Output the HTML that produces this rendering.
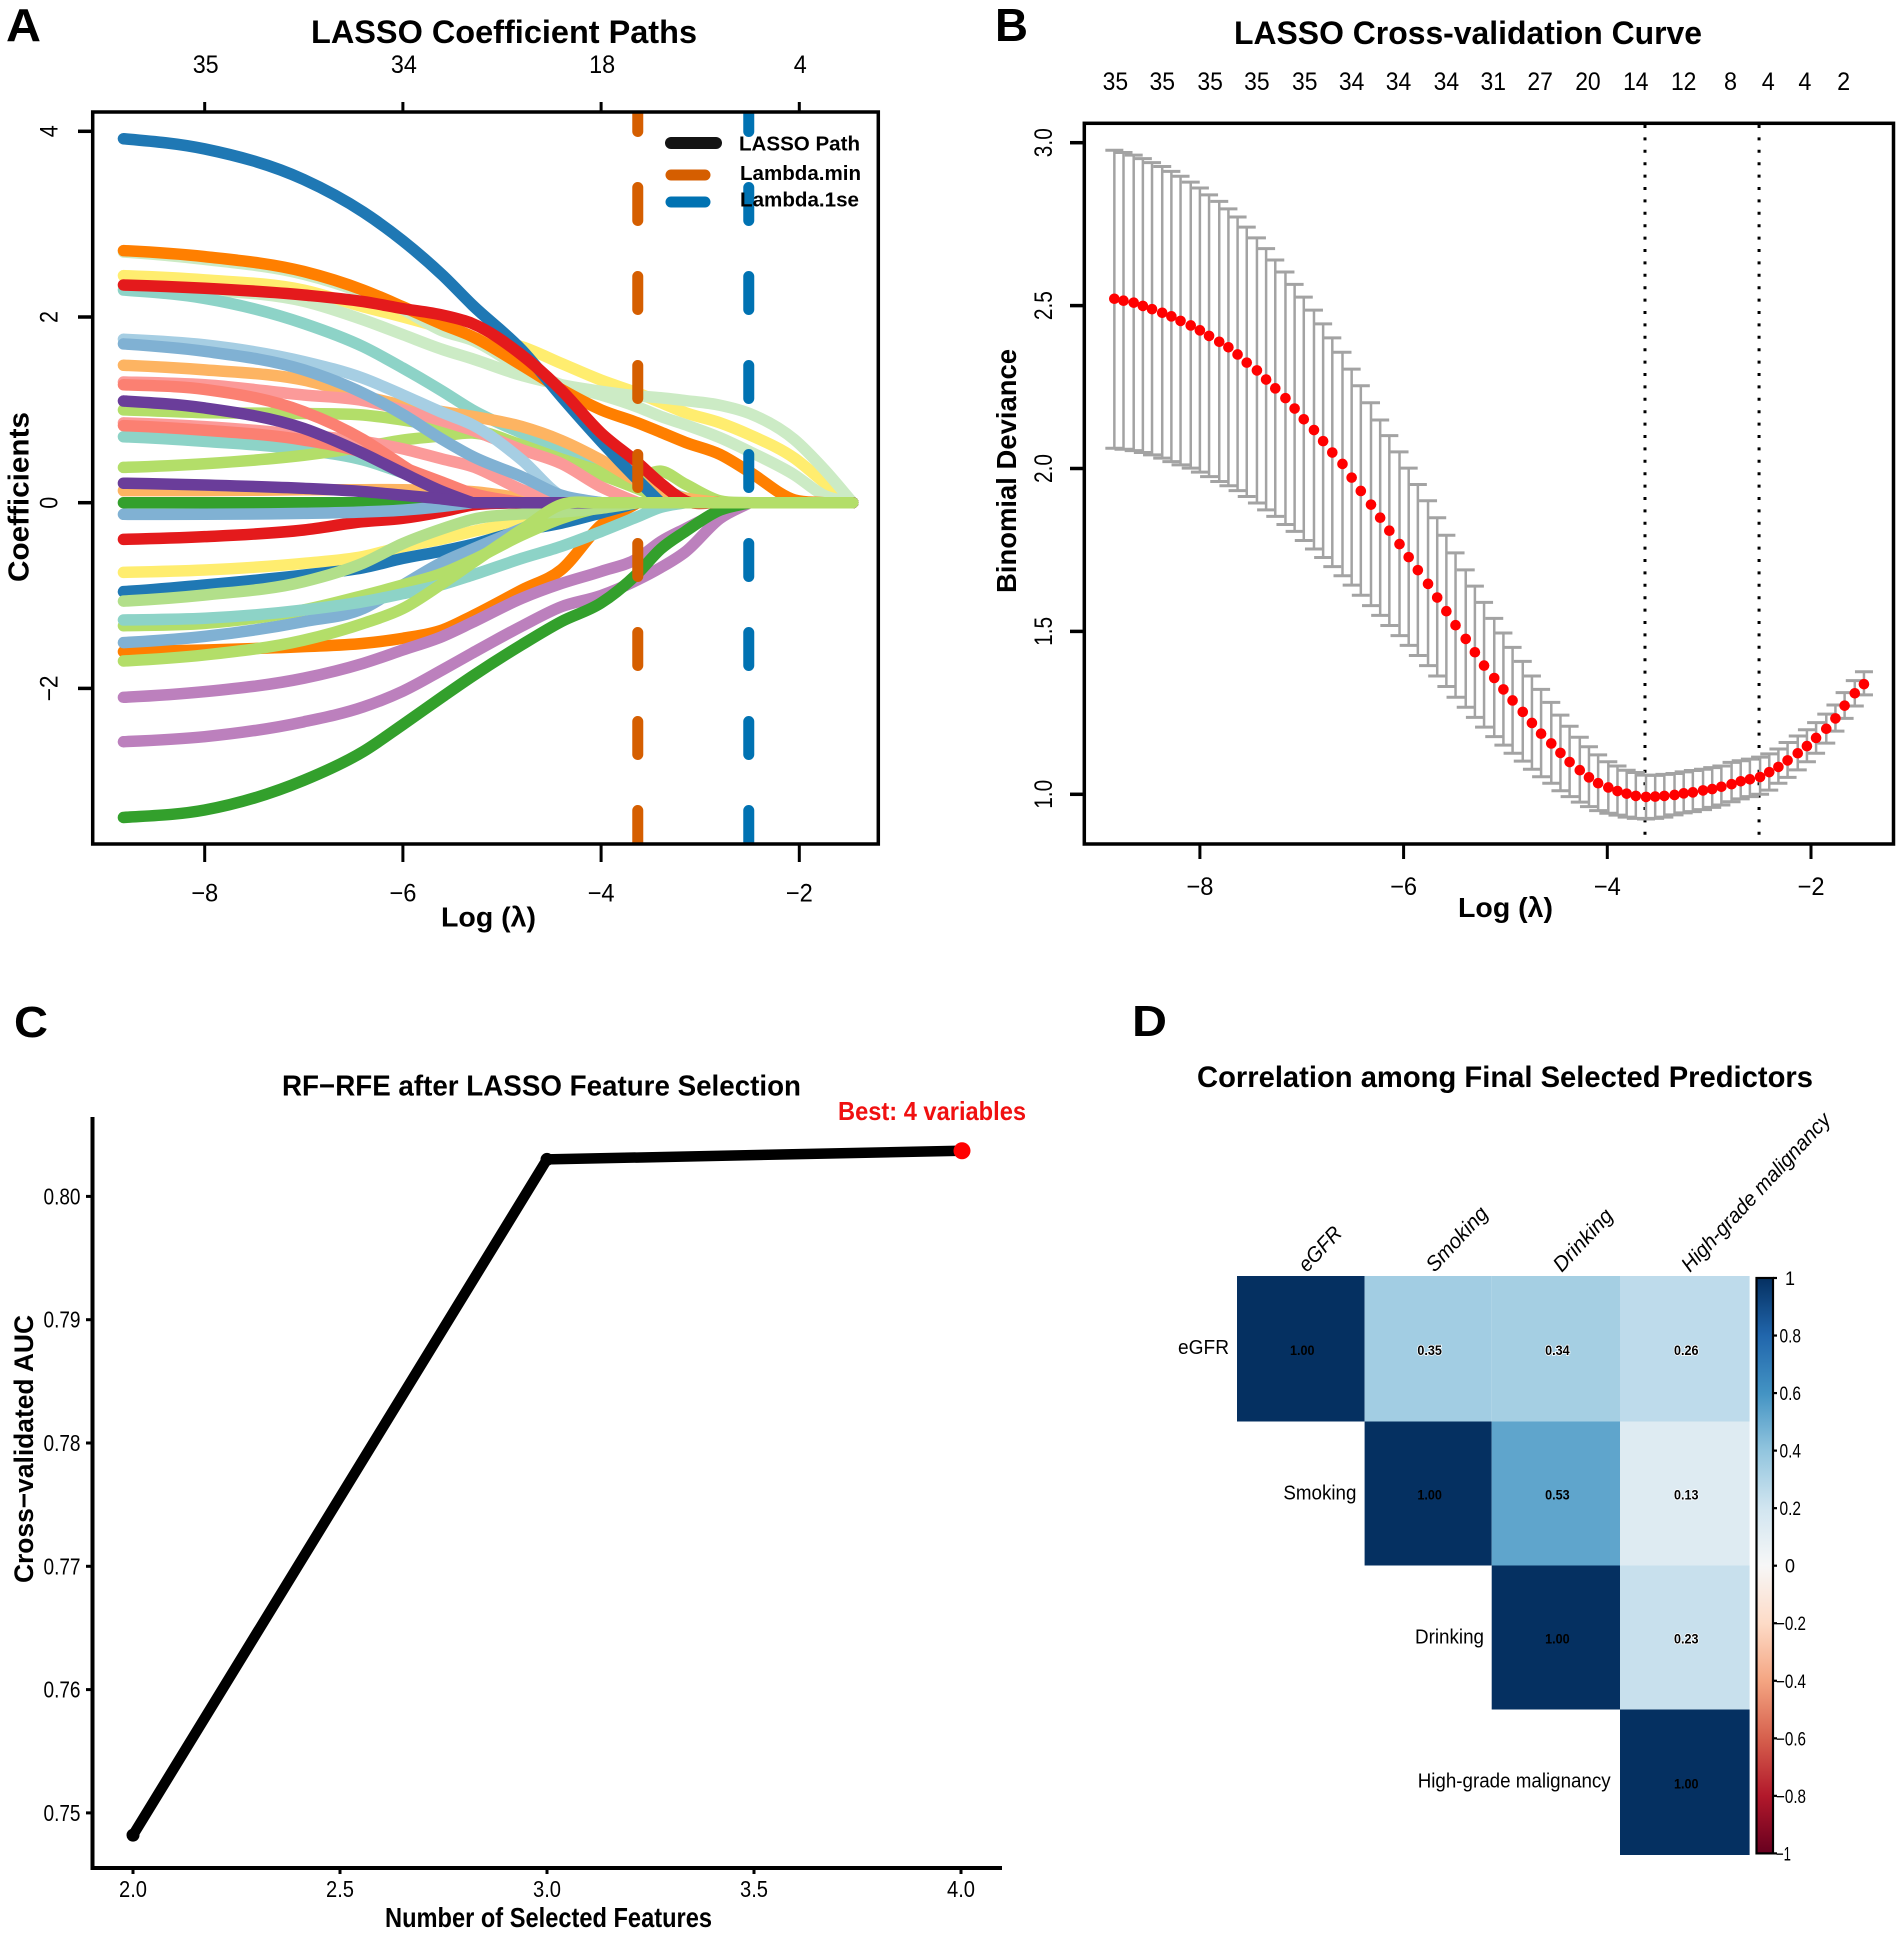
<!DOCTYPE html>
<html lang="en">
<head>
<meta charset="utf-8">
<title>LASSO and RF-RFE feature selection figure</title>
<style>
html,body{margin:0;padding:0;background:#fff;}
svg{display:block;font-family:"Liberation Sans",Arial,sans-serif;}
text{fill:#000;}
.b{font-weight:bold;}
</style>
</head>
<body>
<svg id="figure" width="1902" height="1935" viewBox="0 0 1902 1935" xmlns="http://www.w3.org/2000/svg">
<rect width="1902" height="1935" fill="#fff"/>
<defs>
<clipPath id="clipA"><rect x="92.7" y="112" width="785.6" height="732"/></clipPath>
<linearGradient id="cbarGrad" x1="0" y1="1" x2="0" y2="0"></linearGradient>
</defs>

<g id="panelA">
<text class="b" x="6" y="41" font-size="46" textLength="35" lengthAdjust="spacingAndGlyphs">A</text>
<text class="b" x="311" y="43" font-size="32" textLength="386" lengthAdjust="spacingAndGlyphs">LASSO Coefficient Paths</text>
<g id="pathsA" clip-path="url(#clipA)"></g>
<g id="vlinesA" clip-path="url(#clipA)"></g>
<rect x="92.7" y="112" width="785.6" height="732" fill="none" stroke="#000" stroke-width="3.5"/>
<g id="axesA"></g>
<g>
<line x1="671" y1="143" x2="716" y2="143" stroke="#141414" stroke-width="12" stroke-linecap="round"/>
<line x1="671" y1="175" x2="705" y2="175" stroke="#D55E00" stroke-width="11" stroke-linecap="round"/>
<line x1="671" y1="202" x2="705" y2="202" stroke="#0072B2" stroke-width="11" stroke-linecap="round"/>
<text class="b" x="739" y="150.5" font-size="20" textLength="121" lengthAdjust="spacingAndGlyphs">LASSO Path</text>
<text class="b" x="740" y="180" font-size="20" textLength="121" lengthAdjust="spacingAndGlyphs">Lambda.min</text>
<text class="b" x="740" y="206.5" font-size="20" textLength="119" lengthAdjust="spacingAndGlyphs">Lambda.1se</text>
</g>
<text class="b" x="441" y="926.5" font-size="28" textLength="95" lengthAdjust="spacingAndGlyphs">Log (λ)</text>
<text class="b" transform="translate(28.5,497) rotate(-90)" text-anchor="middle" font-size="29" textLength="170" lengthAdjust="spacingAndGlyphs">Coefficients</text>
</g>

<g id="panelB">
<text class="b" x="995" y="41" font-size="46" textLength="33" lengthAdjust="spacingAndGlyphs">B</text>
<text class="b" x="1234" y="44" font-size="32" textLength="468" lengthAdjust="spacingAndGlyphs">LASSO Cross-validation Curve</text>
<g id="cvB"></g>
<rect x="1084.3" y="123.3" width="809.2" height="720.7" fill="none" stroke="#000" stroke-width="3.5"/>
<g id="axesB"></g>
<text class="b" x="1458" y="917" font-size="28" textLength="95" lengthAdjust="spacingAndGlyphs">Log (λ)</text>
<text class="b" transform="translate(1015.8,471) rotate(-90)" text-anchor="middle" font-size="28" textLength="244" lengthAdjust="spacingAndGlyphs">Binomial Deviance</text>
</g>

<g id="panelC">
<text class="b" x="14" y="1037" font-size="44" textLength="34" lengthAdjust="spacingAndGlyphs">C</text>
<text class="b" x="282" y="1095.5" font-size="29" textLength="519" lengthAdjust="spacingAndGlyphs">RF−RFE after LASSO Feature Selection</text>
<text class="b" x="838" y="1120" font-size="26" textLength="188" lengthAdjust="spacingAndGlyphs" style="fill:#F01010">Best: 4 variables</text>
<g id="axesC"></g>
<g id="lineC"></g>
<text class="b" x="385" y="1927" font-size="28" textLength="327" lengthAdjust="spacingAndGlyphs">Number of Selected Features</text>
<text class="b" transform="translate(33,1449) rotate(-90)" text-anchor="middle" font-size="27" textLength="268" lengthAdjust="spacingAndGlyphs">Cross−validated AUC</text>
</g>

<g id="panelD">
<text class="b" x="1132" y="1036" font-size="44" textLength="35" lengthAdjust="spacingAndGlyphs">D</text>
<text class="b" x="1197" y="1087" font-size="30" textLength="616" lengthAdjust="spacingAndGlyphs">Correlation among Final Selected Predictors</text>
<g id="heatD"></g>
<g id="cbarD"></g>
</g>
</svg>

<script>
// ===== Panel A data =====
const coefLogLambda = [-8.82,-8,-7,-6.4,-6,-5.6,-5.3,-4.8,-4.4,-4,-3.63,-3.4,-3.15,-2.8,-2.5,-2.05,-1.75,-1.46];
const coefPeachLow = [0.13,0.13,0.14,0.14,0.14,0.13,0.12,0.05,0];
const coefYellowUp = [2.445,2.4,2.29,2.11,2.0,1.88,1.78,1.68,1.5,1.32,1.18,1.08,0.97,0.86,0.73,0.48,0.22,0];
const coefPaleLow = [2.7,2.62,2.46,2.26,2.08,1.85,1.75,1.45,1.27,1.16,1.03,0.93,0.84,0.7,0.55,0.3,0.08,0];
const coefPaleUp = [2.33,2.29,2.17,1.97,1.81,1.65,1.55,1.37,1.27,1.2,1.15,1.13,1.1,1.05,0.96,0.68,0.36,0];
const coefOrangeUp = [2.715,2.65,2.49,2.29,2.11,1.92,1.79,1.48,1.22,1.0,0.86,0.76,0.65,0.52,0.33,0.03,0];
const coefTealUp = [2.29,2.2,1.93,1.68,1.45,1.2,1.0,0.75,0.57,0.42,0.28,0.16,0.05,0];
const coefGreenHump = [1.0,0.97,0.96,0.945,0.89,0.82,0.79,0.62,0.47,0.34,0.26,0.34,0.2,0.02,0];
const coefGreenRise = [0.38,0.42,0.51,0.6,0.675,0.72,0.75,0.6,0.45,0.3,0.15,0.05,0];
const coefTealMid = [0.71,0.66,0.57,0.46,0.32,0.17,0.05,0];
const coefPeachUp = [1.48,1.43,1.32,1.15,1.05,0.98,0.93,0.82,0.67,0.46,0.23,0.12,0.05,0];
const coefPinkLow = [0.86,0.82,0.73,0.66,0.58,0.47,0.39,0.14,0];
const coefSalmonLow = [0.83,0.78,0.675,0.54,0.38,0.22,0.1,0];
const coefPinkUp = [1.3,1.27,1.16,1.1,1.0,0.88,0.78,0.57,0.42,0.17,0];
const coefSalmonUp = [1.27,1.22,0.98,0.68,0.4,0.14,0.02,0];
const coefLightBlue = [1.76,1.7,1.52,1.34,1.16,0.97,0.84,0.46,0.07,0];
const coefSteelUp = [1.71,1.63,1.43,1.18,0.95,0.68,0.5,0.28,0.08,0];
const coefPurpleUp = [1.095,1.02,0.8,0.53,0.32,0.12,0,0];
const coefGreenZero = [0,0,0,0,0,0,0,0,0];
const coefOrangeLow = [-1.604,-1.586,-1.55,-1.515,-1.46,-1.37,-1.22,-0.94,-0.72,-0.24,0];
const coefOrchidA = [-2.574,-2.52,-2.36,-2.2,-2.03,-1.8,-1.62,-1.33,-1.12,-1.0,-0.83,-0.7,-0.53,-0.17,0];
const coefOrchidB = [-2.096,-2.035,-1.89,-1.73,-1.586,-1.44,-1.29,-1.03,-0.87,-0.74,-0.6,-0.42,-0.28,-0.1,0];
const coefGreenDeep = [-3.39,-3.31,-2.99,-2.68,-2.39,-2.09,-1.87,-1.53,-1.28,-1.08,-0.76,-0.5,-0.31,-0.08,0];
const coefYellowLow = [-0.75,-0.725,-0.653,-0.58,-0.473,-0.39,-0.31,-0.21,-0.13,-0.05,0];
const coefBlueLow = [-0.958,-0.886,-0.78,-0.7,-0.6,-0.52,-0.45,-0.3,-0.22,-0.11,0];
const coefSteelLow = [-1.507,-1.44,-1.28,-1.14,-0.886,-0.64,-0.5,-0.28,-0.1,0];
const coefGreenLow = [-1.325,-1.3,-1.155,-1.0,-0.886,-0.76,-0.62,-0.35,-0.17,-0.05,0];
const coefTealLow = [-1.263,-1.245,-1.155,-1.066,-0.98,-0.88,-0.78,-0.6,-0.47,-0.31,-0.15,-0.05,0];
const coefGreenMid = [-1.06,-0.994,-0.85,-0.65,-0.44,-0.28,-0.18,-0.12,-0.1,-0.06,0];
const coefRedLow = [-0.395,-0.366,-0.294,-0.204,-0.168,-0.096,-0.025,0];
const coefSteelZero = [-0.125,-0.125,-0.115,-0.1,-0.08,-0.04,0,0];
const coefPurpleZero = [0.21,0.19,0.155,0.12,0.08,0.04,0,0];
const coefBlueUp = [3.92,3.81,3.48,3.13,2.82,2.45,2.13,1.645,1.14,0.66,0.245,0,0];
const coefRedUp = [2.345,2.31,2.237,2.166,2.09,2.02,1.93,1.59,1.21,0.75,0.43,0.21,0.02,0];
const coefGreenTop = [-1.705,-1.64,-1.48,-1.3,-1.14,-0.87,-0.65,-0.29,-0.02,0,0,0,0,0,0,0,0,0];
const lambdaMin = -3.63;
const lambda1se = -2.51;
const axisATicks = [-8,-6,-4,-2];
const axisATopLabels = ["35","34","18","4"];
const axisAYTicks = [4,2,0,-2];

// ===== Panel B data =====
const cvLogLambda = [-8.84,-8.75,-8.65,-8.56,-8.47,-8.37,-8.28,-8.19,-8.09,-8.00,
-7.91,-7.81,-7.72,-7.63,-7.54,-7.44,-7.35,-7.26,-7.16,-7.07,
-6.98,-6.88,-6.79,-6.70,-6.60,-6.51,-6.42,-6.32,-6.23,-6.14,
-6.04,-5.95,-5.86,-5.76,-5.67,-5.58,-5.49,-5.39,-5.30,-5.21,
-5.11,-5.02,-4.93,-4.83,-4.74,-4.65,-4.55,-4.46,-4.37,-4.27,
-4.18,-4.09,-3.99,-3.90,-3.81,-3.72,-3.62,-3.53,-3.44,-3.34,
-3.25,-3.16,-3.06,-2.97,-2.88,-2.78,-2.69,-2.60,-2.50,-2.41,
-2.32,-2.23,-2.13,-2.04,-1.95,-1.85,-1.76,-1.67,-1.57,-1.48];
const cvMean = [2.521,2.515,2.509,2.499,2.489,2.478,2.467,2.453,2.439,2.424,
2.407,2.389,2.372,2.350,2.325,2.301,2.273,2.246,2.216,2.184,
2.151,2.118,2.084,2.049,2.014,1.972,1.931,1.889,1.849,1.809,
1.768,1.728,1.688,1.646,1.604,1.562,1.519,1.477,1.436,1.395,
1.357,1.322,1.288,1.253,1.219,1.186,1.156,1.127,1.099,1.074,
1.052,1.034,1.021,1.010,1.002,0.995,0.992,0.993,0.995,0.998,
1.003,1.006,1.012,1.016,1.023,1.031,1.040,1.046,1.053,1.068,
1.084,1.104,1.126,1.148,1.173,1.201,1.233,1.272,1.310,1.338];
const cvUpper = [2.977,2.970,2.962,2.951,2.939,2.927,2.912,2.897,2.879,2.861,
2.840,2.820,2.797,2.772,2.741,2.708,2.675,2.640,2.603,2.565,
2.526,2.486,2.444,2.401,2.357,2.305,2.254,2.202,2.149,2.101,
2.051,2.001,1.951,1.901,1.849,1.795,1.741,1.689,1.639,1.589,
1.540,1.495,1.451,1.408,1.363,1.322,1.282,1.243,1.209,1.175,
1.146,1.121,1.100,1.087,1.074,1.067,1.059,1.058,1.061,1.064,
1.069,1.073,1.077,1.082,1.087,1.098,1.103,1.108,1.114,1.124,
1.139,1.159,1.179,1.198,1.220,1.246,1.274,1.312,1.349,1.376];
const cvLower = [2.062,2.059,2.055,2.049,2.042,2.032,2.021,2.011,2.001,1.989,
1.975,1.960,1.947,1.932,1.914,1.894,1.873,1.853,1.828,1.807,
1.779,1.753,1.727,1.699,1.671,1.642,1.611,1.579,1.549,1.518,
1.487,1.457,1.426,1.395,1.363,1.331,1.298,1.267,1.236,1.206,
1.177,1.151,1.126,1.102,1.077,1.054,1.034,1.011,0.993,0.976,
0.962,0.950,0.942,0.936,0.930,0.926,0.924,0.926,0.930,0.937,
0.943,0.947,0.953,0.960,0.967,0.977,0.986,0.993,1.000,1.013,
1.034,1.052,1.075,1.100,1.126,1.157,1.194,1.233,1.271,1.305];
const cvTopLogLambda = [-8.83,-8.37,-7.90,-7.44,-6.97,-6.51,-6.05,-5.58,-5.12,-4.66,-4.19,-3.72,-3.25,-2.79,-2.42,-2.06,-1.68];
const cvTopLabels = ["35","35","35","35","35","34","34","34","31","27","20","14","12","8","4","4","2"];
const axisBXTicks = [-8,-6,-4,-2];
const axisBYTicks = [3.0,2.5,2.0,1.5,1.0];

// ===== Panel C data =====
const rfeFeatures = [2,3,4];
const rfeAuc = [0.7482,0.8030,0.8037];
const axisCXTicks = [2.0,2.5,3.0,3.5,4.0];
const axisCYTicks = [0.80,0.79,0.78,0.77,0.76,0.75];

// ===== Panel D data =====
const corrVars = ["eGFR","Smoking","Drinking","High-grade malignancy"];
const corrRow0 = [1.00,0.35,0.34,0.26];
const corrRow1 = [null,1.00,0.53,0.13];
const corrRow2 = [null,null,1.00,0.23];
const corrRow3 = [null,null,null,1.00];
const cbarTicks = [1,0.8,0.6,0.4,0.2,0,-0.2,-0.4,-0.6,-0.8,-1];
const rdbuValues = [-1,-0.8,-0.6,-0.4,-0.2,0,0.2,0.4,0.6,0.8,1];
const rdbuColors = ["#67001F","#B2182B","#D6604D","#F4A582","#FDDBC7","#F7F7F7","#D1E5F0","#92C5DE","#4393C3","#2166AC","#053061"];

// ===== Helpers =====
const NS = "http://www.w3.org/2000/svg";
function make(tag, parent){
  const el = document.createElementNS(NS, tag);
  parent.appendChild(el);
  return el;
}
function label(parent, str, x, y, size, anchor, len, rot, name){
  const el = make("text", parent);
  
  
  el.textContent = str;
  el.setAttribute("font-size", size);
  el.setAttribute("text-anchor", anchor);
  if (rot) { el.setAttribute("transform", "translate(" + x + "," + y + ") rotate(" + rot + ")"); }
  else { el.setAttribute("x", x); el.setAttribute("y", y); }
  if (len) { el.setAttribute("textLength", len); el.setAttribute("lengthAdjust", "spacingAndGlyphs"); }
  return el;
}
function seg(parent, x1, y1, x2, y2, color, w, name){
  const el = make("line", parent);
  
  
  el.setAttribute("x1", x1); el.setAttribute("y1", y1);
  el.setAttribute("x2", x2); el.setAttribute("y2", y2);
  el.setAttribute("stroke", color); el.setAttribute("stroke-width", w);
  return el;
}
function minusFmt(v, digits){
  const s = Math.abs(v).toFixed(digits);
  return (v < 0 ? "\u2212" : "") + s;
}
// Smooth cubic through knots; a path reaching its flat tail meets it with a kink, like a LASSO path.
function smoothPath(xs, ys){
  const n = xs.length, d = [], h = [];
  for (let i = 0; i < n - 1; i++) { h.push(xs[i+1] - xs[i]); d.push((ys[i+1] - ys[i]) / h[i]); }
  const mL = [], mR = [];
  for (let i = 0; i < n; i++) {
    if (i === 0) { mL[i] = mR[i] = d[0] * 0.7; continue; }
    if (i === n - 1) { mL[i] = mR[i] = d[n-2]; continue; }
    if (d[i] === 0) { mL[i] = d[i-1]; mR[i] = 0; continue; }
    const m = (d[i-1] * h[i] + d[i] * h[i-1]) / (h[i-1] + h[i]);
    mL[i] = m; mR[i] = m;
  }
  let p = "M" + xs[0].toFixed(2) + " " + ys[0].toFixed(2);
  for (let i = 0; i < n - 1; i++) {
    const t = h[i] / 3;
    p += "C" + (xs[i] + t).toFixed(2) + " " + (ys[i] + mR[i] * t).toFixed(2) + " " +
         (xs[i+1] - t).toFixed(2) + " " + (ys[i+1] - mL[i+1] * t).toFixed(2) + " " +
         xs[i+1].toFixed(2) + " " + ys[i+1].toFixed(2);
  }
  return p;
}
function rdbu(v){
  let i = 0;
  while (i < rdbuValues.length - 2 && v > rdbuValues[i+1]) i++;
  const t = (v - rdbuValues[i]) / (rdbuValues[i+1] - rdbuValues[i]);
  const a = rdbuColors[i], b = rdbuColors[i+1];
  let out = "rgb(";
  for (let k = 0; k < 3; k++) {
    const ca = parseInt(a.substr(1 + k * 2, 2), 16), cb = parseInt(b.substr(1 + k * 2, 2), 16);
    out += Math.round(ca + (cb - ca) * t) + (k < 2 ? "," : ")");
  }
  return out;
}

// ===== Panel A drawing =====
const xA = v => 204.7 + (v + 8) * 99.1;
const yA = v => 502.7 - v * 92.85;
const coefNames = ["peach-low","yellow-up","pale-low","pale-up","orange-up","teal-up","green-hump","teal-mid","green-rise","peach-up","pink-low","salmon-low","pink-up","salmon-up","light-blue","steel-up","purple-up","green-zero","orange-low","orchid-a","orchid-b","green-deep","yellow-low","blue-low","steel-low","green-low","teal-low","green-mid","red-low","steel-zero","purple-zero","blue-up","red-up","green-top"];
const coefSeries = [coefPeachLow,coefYellowUp,coefPaleLow,coefPaleUp,coefOrangeUp,coefTealUp,coefGreenHump,coefTealMid,coefGreenRise,coefPeachUp,coefPinkLow,coefSalmonLow,coefPinkUp,coefSalmonUp,coefLightBlue,coefSteelUp,coefPurpleUp,coefGreenZero,coefOrangeLow,coefOrchidA,coefOrchidB,coefGreenDeep,coefYellowLow,coefBlueLow,coefSteelLow,coefGreenLow,coefTealLow,coefGreenMid,coefRedLow,coefSteelZero,coefPurpleZero,coefBlueUp,coefRedUp,coefGreenTop];
const coefColors = ["#FDB462","#FFED6F","#CCEBC5","#CCEBC5","#FF7F00","#8DD3C7","#B3DE69","#8DD3C7","#B3DE69","#FDB462","#FB9A99","#FB8072","#FB9A99","#FB8072","#A6CEE3","#80B1D3","#6A3D9A","#33A02C","#FF7F00","#BC80BD","#BC80BD","#33A02C","#FFED6F","#1F78B4","#80B1D3","#B3DE69","#8DD3C7","#B2DF8A","#E41A1C","#80B1D3","#6A3D9A","#1F78B4","#E41A1C","#B3DE69"];
const gPaths = document.getElementById("pathsA");
coefSeries.forEach(function(vals, s){
  const xs = coefLogLambda.map(xA);
  const ys = coefLogLambda.map(function(_, i){ return yA(vals[i] === undefined ? 0 : vals[i]); });
  const el = make("path", gPaths);
  
  
  el.setAttribute("d", smoothPath(xs, ys));
  el.setAttribute("fill", "none");
  el.setAttribute("stroke", coefColors[s]);
  el.setAttribute("stroke-width", 11.5);
  el.setAttribute("stroke-linecap", "round");
  el.setAttribute("stroke-linejoin", "round");
});
const gV = document.getElementById("vlinesA");
const vMin = seg(gV, xA(lambdaMin), 98.5, xA(lambdaMin), 860, "#D55E00", 11, "lambda-min-line");
const v1se = seg(gV, xA(lambda1se), 98.5, xA(lambda1se), 860, "#0072B2", 11, "lambda-1se-line");
[vMin, v1se].forEach(function(el){
  el.setAttribute("stroke-dasharray", "33 56");
  el.setAttribute("stroke-linecap", "round");
});
const gAA = document.getElementById("axesA");
axisATicks.forEach(function(t, i){
  seg(gAA, xA(t), 844, xA(t), 862, "#000", 3, "x-tick");
  seg(gAA, xA(t), 102, xA(t), 112, "#000", 3, "top-tick");
  label(gAA, minusFmt(t, 0), xA(t), 901.5, 25, "middle", t < 0 ? 27 : 0, 0, "x-tick-label");
  label(gAA, axisATopLabels[i], xA(t) + 1, 73, 25, "middle", axisATopLabels[i].length > 1 ? 26 : 13, 0, "top-count-label");
});
axisAYTicks.forEach(function(t){
  seg(gAA, 78, yA(t), 92.7, yA(t), "#000", 3.5, "y-tick");
  label(gAA, minusFmt(t, 0), 57.5, yA(t), 25, "middle", t < 0 ? 26 : 12, -90, "y-tick-label");
});

// ===== Panel B drawing =====
const xB = v => 1199.9 + (v + 8) * 101.85;
const yB = v => 794.3 - (v - 1) * 325.8;
const gCV = document.getElementById("cvB");
[lambdaMin, lambda1se].forEach(function(l){
  const el = seg(gCV, xB(l), 125, xB(l), 836, "#000", 3, "cv-lambda-dotted-line");
  el.setAttribute("stroke-dasharray", "3 9.4");
});
cvLogLambda.forEach(function(l, i){
  const x = xB(l), u = yB(cvUpper[i]), d = yB(cvLower[i]);
  seg(gCV, x, u, x, d, "#A3A3A3", 2.5, "cv-error-bar");
  seg(gCV, x - 9, u, x + 9, u, "#A3A3A3", 3, "cv-error-cap-upper");
  seg(gCV, x - 9, d, x + 9, d, "#A3A3A3", 3, "cv-error-cap-lower");
});
cvLogLambda.forEach(function(l, i){
  const c = make("circle", gCV);
  
  
  c.setAttribute("cx", xB(l));
  c.setAttribute("cy", yB(cvMean[i]));
  c.setAttribute("r", 5.3);
  c.setAttribute("fill", "#FF0000");
});
const gAB = document.getElementById("axesB");
axisBXTicks.forEach(function(t){
  seg(gAB, xB(t), 844, xB(t), 859, "#000", 3, "x-tick");
  label(gAB, minusFmt(t, 0), xB(t), 895, 25, "middle", 27, 0, "x-tick-label");
});
axisBYTicks.forEach(function(t){
  seg(gAB, 1070, yB(t), 1084.3, yB(t), "#000", 3.5, "y-tick");
  label(gAB, t.toFixed(1), 1052, yB(t), 25, "middle", 29, -90, "y-tick-label");
});
cvTopLogLambda.forEach(function(l, i){
  label(gAB, cvTopLabels[i], xB(l), 90, 25, "middle", cvTopLabels[i].length > 1 ? 25.5 : 13, 0, "top-count-label");
});

// ===== Panel C drawing =====
const xC = v => 133 + (v - 2) * 414;
const yC = v => 1196.4 + (0.8 - v) * 12330;
const gAC = document.getElementById("axesC");
seg(gAC, 92.5, 1117, 92.5, 1870, "#000", 4, "y-axis-line");
seg(gAC, 90.5, 1868, 1002, 1868, "#000", 4, "x-axis-line");
axisCXTicks.forEach(function(t){
  seg(gAC, xC(t), 1868, xC(t), 1874, "#000", 3, "x-tick");
  label(gAC, t.toFixed(1), xC(t), 1897, 23, "middle", 28, 0, "x-tick-label");
});
axisCYTicks.forEach(function(t){
  seg(gAC, 86, yC(t), 92, yC(t), "#000", 3, "y-tick");
  label(gAC, t.toFixed(2), 80.5, yC(t) + 8, 23, "end", 37, 0, "y-tick-label");
});
const gLC = document.getElementById("lineC");
const polyC = make("polyline", gLC);


polyC.setAttribute("points", rfeFeatures.map(function(f, i){ return xC(f) + "," + yC(rfeAuc[i]); }).join(" "));
polyC.setAttribute("fill", "none");
polyC.setAttribute("stroke", "#000");
polyC.setAttribute("stroke-width", 10.5);
polyC.setAttribute("stroke-linejoin", "round");
rfeFeatures.forEach(function(f, i){
  const best = i === rfeFeatures.length - 1;
  const c = make("circle", gLC);
  
  
  c.setAttribute("cx", xC(f) + (best ? 1 : 0));
  c.setAttribute("cy", yC(rfeAuc[i]));
  c.setAttribute("r", best ? 8.5 : 6.5);
  c.setAttribute("fill", best ? "#FF0000" : "#000");
});

// ===== Panel D drawing =====
const colEdges = [1237, 1364.6, 1491.7, 1620, 1749.6];
const rowEdges = [1276, 1421.5, 1565.5, 1709.5, 1855];
const rowLabelEnd = [1229, 1356.4, 1484, 1610.7];
const rowLabelLen = [51, 73, 69, 193];
const colLabelLen = [53, 80, 77, 208];
const corrRows = [corrRow0, corrRow1, corrRow2, corrRow3];
const gH = document.getElementById("heatD");
corrRows.forEach(function(row, r){
  row.forEach(function(v, c){
    if (v === null) return;
    const rect = make("rect", gH);
    
    
    rect.setAttribute("x", colEdges[c]);
    rect.setAttribute("y", rowEdges[r]);
    rect.setAttribute("width", colEdges[c+1] - colEdges[c]);
    rect.setAttribute("height", rowEdges[r+1] - rowEdges[r]);
    rect.setAttribute("fill", rdbu(v));
  });
});
corrRows.forEach(function(row, r){
  row.forEach(function(v, c){
    if (v === null) return;
    const t = label(gH, v.toFixed(2), (colEdges[c] + colEdges[c+1]) / 2 + 1.5, (rowEdges[r] + rowEdges[r+1]) / 2 + 6, 14, "middle", 24.5, 0, "corr-value");
    t.setAttribute("font-weight", "bold");
    if (v < 0.5) {
      t.setAttribute("stroke", "#fff");
      t.setAttribute("stroke-width", 1.6);
      t.setAttribute("paint-order", "stroke");
    }
  });
});
corrVars.forEach(function(name, i){
  label(gH, name, rowLabelEnd[i], rowEdges[i] + 78, 20, "end", rowLabelLen[i], 0, "row-label");
  const t = label(gH, name, colEdges[i] + 70, 1273, 21, "start", colLabelLen[i], -47, "column-label");
  t.setAttribute("font-style", "italic");
});
const grad = document.getElementById("cbarGrad");
rdbuValues.forEach(function(v, i){
  const st = make("stop", grad);
  st.setAttribute("offset", (v + 1) / 2);
  st.setAttribute("stop-color", rdbuColors[i]);
});
const gC = document.getElementById("cbarD");
const yCb = v => 1565.7 - v * 287.7;
const bar = make("rect", gC);


bar.setAttribute("x", 1756.5);
bar.setAttribute("y", yCb(1));
bar.setAttribute("width", 16.5);
bar.setAttribute("height", yCb(-1) - yCb(1));
bar.setAttribute("fill", "url(#cbarGrad)");
bar.setAttribute("stroke", "#000");
bar.setAttribute("stroke-width", 2.2);
cbarTicks.forEach(function(t){
  seg(gC, 1773, yCb(t), 1777, yCb(t), "#000", 2.2, "color-bar-tick");
  const s = t === 0 ? "0" : (Math.abs(t) === 1 ? minusFmt(t, 0) : minusFmt(t, 1));
  const len = t === 0 || t === 1 ? 10 : (t === -1 ? 15 : (t < 0 ? 30 : 21.5));
  label(gC, s, t < 0 ? 1776 : (t === 0 || t === 1 ? 1785 : 1779.5), yCb(t) + 7, 19, "start", len, 0, "color-bar-label");
});
</script>
</body>
</html>
